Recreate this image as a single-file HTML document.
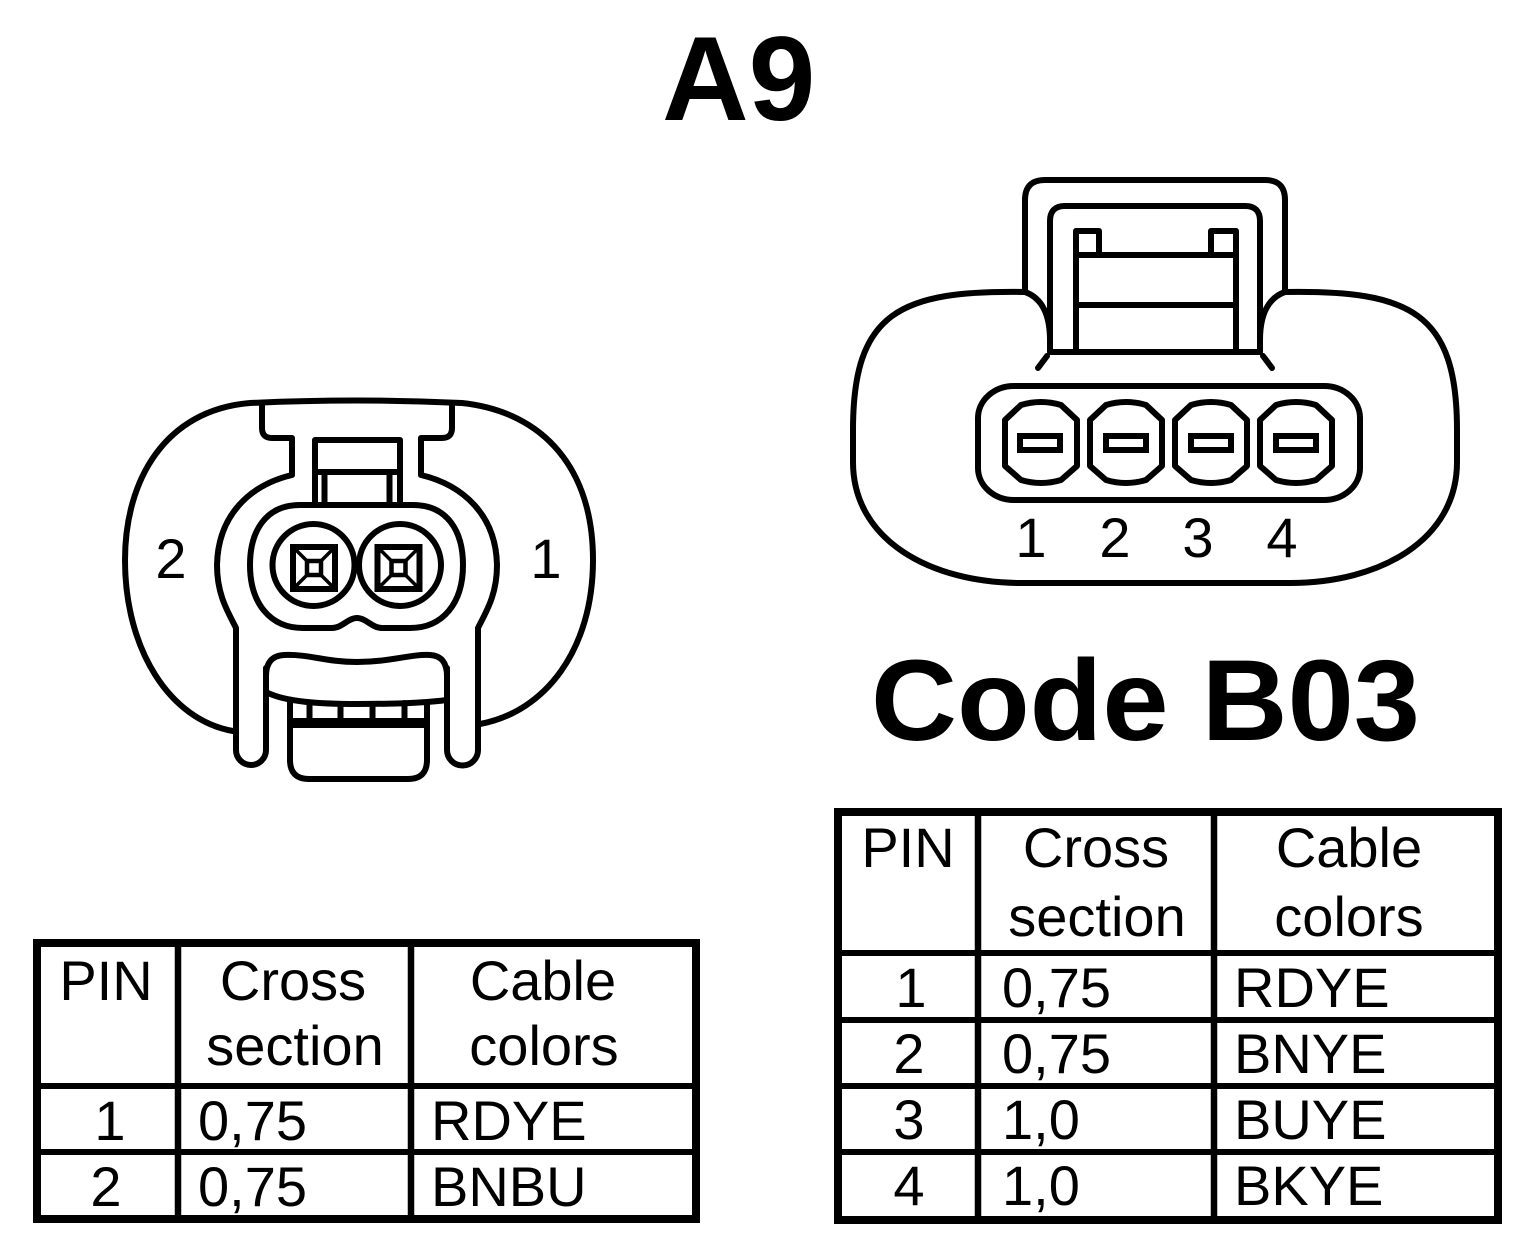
<!DOCTYPE html>
<html>
<head>
<meta charset="utf-8">
<style>
  html, body { margin:0; padding:0; background:#fff; }
  body { width:1536px; height:1248px; overflow:hidden; }
  svg { display:block; }
  text { font-family: "Liberation Sans", Arial, sans-serif; fill:#000; }
</style>
</head>
<body>
<svg width="1536" height="1248" viewBox="0 0 1536 1248" xmlns="http://www.w3.org/2000/svg">
  <rect x="0" y="0" width="1536" height="1248" fill="#fff"/>

  <!-- Titles -->
  <text x="662" y="120" font-size="120" font-weight="bold">A9</text>
  <text x="871" y="740" font-size="115" font-weight="bold" textLength="549" lengthAdjust="spacingAndGlyphs">Code B03</text>

  <!-- ===== Left connector (A9) ===== -->
  <g fill="none" stroke="#000" stroke-width="6" stroke-linejoin="round" stroke-linecap="round">
    <!-- outer ring -->
    <path d="M 233 731 C 170 720, 125 650, 125 560 C 125 480, 165 410, 250 403 Q 357 398 462 403 C 545 412, 593 470, 593 560 C 593 650, 545 712, 480 724"/>
    <!-- inner contour left -->
    <path d="M 262 403 L 262 428 Q 262 438 272 438 L 292 438 L 292 475 C 250 485, 218 515, 217 565 C 217 595, 228 612, 236 628 L 236 750 A 15 15 0 0 0 266 750 L 266 668"/>
    <!-- inner contour right -->
    <path d="M 452 403 L 452 428 Q 452 438 442 438 L 421 438 L 421 475 C 463 485, 496 515, 497 565 C 497 595, 486 612, 478 628 L 478 750 A 15.5 15.5 0 0 1 447 750 L 447 668"/>
    <!-- latch -->
    <path d="M 315 504 L 315 440 L 400 440 L 400 504"/>
    <path d="M 315 472 L 400 472"/>
    <path d="M 324.5 472 L 324.5 503"/>
    <path d="M 389.5 472 L 389.5 503"/>
    <!-- pin housing -->
    <path d="M 300 505 L 413 505 C 448 505, 463 532, 463 565 C 463 603, 443 628, 410 628 L 382 628 C 372 628, 366 618, 357 618 C 348 618, 342 628, 332 628 L 303 628 C 270 628, 250 603, 250 565 C 250 532, 265 505, 300 505 Z"/>
    <!-- pin circles -->
    <circle cx="313.5" cy="565" r="41"/>
    <circle cx="400" cy="565" r="41"/>
    <!-- jaw -->
    <path d="M 266 676 Q 266 656 284 655 C 310 654, 325 662, 357 662 C 390 662, 410 654, 430 655 Q 447 656 447 676"/>
    <path d="M 266 692 C 285 702, 320 704, 357 704 C 395 704, 425 703, 447 700"/>
    <!-- plug -->
    <path d="M 290 702 L 290 760 Q 290 779 309 779 L 408 779 Q 427 779 427 760 L 427 703"/>
    <path d="M 309.5 703 L 309.5 720 M 340.5 704 L 340.5 720 M 372.5 704 L 372.5 720 M 404.5 703 L 404.5 720"/>
  </g>
  <rect x="290" y="718" width="137" height="10" fill="#000"/>

  <!-- square terminals -->
  <g fill="none" stroke="#000" stroke-linejoin="miter">
    <rect x="293" y="547" width="42" height="42" stroke-width="6"/>
    <rect x="307" y="561" width="14" height="14" stroke-width="4.5"/>
    <path d="M 293 547 L 307 561 M 335 547 L 321 561 M 293 589 L 307 575 M 335 589 L 321 575" stroke-width="3.5"/>
    <rect x="377.5" y="547" width="42" height="42" stroke-width="6"/>
    <rect x="391.5" y="561" width="14" height="14" stroke-width="4.5"/>
    <path d="M 377.5 547 L 391.5 561 M 419.5 547 L 405.5 561 M 377.5 589 L 391.5 575 M 419.5 589 L 405.5 575" stroke-width="3.5"/>
  </g>

  <text x="171" y="578" font-size="56" text-anchor="middle">2</text>
  <text x="546" y="578" font-size="56" text-anchor="middle">1</text>

  <!-- ===== Right connector (B03) ===== -->
  <g fill="none" stroke="#000" stroke-width="6" stroke-linejoin="round" stroke-linecap="round">
    <!-- body -->
    <path d="M 1025 292 C 900 290, 853 312, 853 430 L 853 462 C 853 540, 930 583, 1022 583 L 1290 583 C 1380 583, 1457 540, 1457 462 L 1457 430 C 1457 312, 1410 290, 1285 292"/>
    <!-- outer tab -->
    <path d="M 1025 292 L 1025 200 Q 1025 180 1045 180 L 1265 180 Q 1285 180 1285 200 L 1285 292"/>
    <!-- curves from junction into inner tab -->
    <path d="M 1025 292 C 1042 298, 1050 315, 1050 340"/>
    <path d="M 1285 292 C 1268 298, 1260 315, 1260 340"/>
    <!-- tails -->
    <path d="M 1047 356 L 1038 368"/>
    <path d="M 1263 356 L 1272 368"/>
    <!-- inner tab -->
    <path d="M 1050 352 L 1050 221 Q 1050 206 1065 206 L 1245 206 Q 1260 206 1260 221 L 1260 352 Z"/>
    <!-- latch -->
    <path d="M 1076 352 L 1076 231 L 1099 231 L 1099 255"/>
    <path d="M 1236 352 L 1236 231 L 1211 231 L 1211 255"/>
    <path d="M 1076 255 L 1236 255"/>
    <path d="M 1076 305 L 1236 305"/>
    <!-- pin housing -->
    <rect x="978" y="386" width="382" height="114" rx="36" ry="32"/>
    <!-- cavities -->
    <path d="M 1005 420 L 1021 405 Q 1041 399 1061 405 L 1077 420 L 1077 466 L 1061 480 Q 1041 486 1021 480 L 1005 466 Z"/>
    <path d="M 1090 420 L 1106 405 Q 1126 399 1146 405 L 1162 420 L 1162 466 L 1146 480 Q 1126 486 1106 480 L 1090 466 Z"/>
    <path d="M 1175 420 L 1191 405 Q 1211 399 1231 405 L 1247 420 L 1247 466 L 1231 480 Q 1211 486 1191 480 L 1175 466 Z"/>
    <path d="M 1260 420 L 1276 405 Q 1296 399 1316 405 L 1332 420 L 1332 466 L 1316 480 Q 1296 486 1276 480 L 1260 466 Z"/>
  </g>
  <g fill="none" stroke="#000" stroke-width="6" stroke-linejoin="miter">
    <rect x="1020" y="436" width="40" height="14"/>
    <rect x="1106" y="436" width="40" height="14"/>
    <rect x="1191" y="436" width="40" height="14"/>
    <rect x="1276" y="436" width="40" height="14"/>
  </g>
  <text x="1031" y="557" font-size="56" text-anchor="middle">1</text>
  <text x="1115" y="557" font-size="56" text-anchor="middle">2</text>
  <text x="1198" y="557" font-size="56" text-anchor="middle">3</text>
  <text x="1282" y="557" font-size="56" text-anchor="middle">4</text>

  <!-- ===== Left table ===== -->
  <g stroke="#000" fill="none">
    <rect x="37" y="943" width="659" height="276" stroke-width="8"/>
    <path d="M 178 943 L 178 1219 M 411 943 L 411 1219" stroke-width="6.5"/>
    <path d="M 37 1086 L 696 1086 M 37 1152 L 696 1152" stroke-width="6"/>
  </g>
  <g font-size="56">
    <text x="106" y="1000" text-anchor="middle">PIN</text>
    <text x="293" y="1000" text-anchor="middle">Cross</text>
    <text x="295" y="1065" text-anchor="middle">section</text>
    <text x="543" y="1000" text-anchor="middle">Cable</text>
    <text x="544" y="1065" text-anchor="middle">colors</text>
    <text x="110" y="1140" text-anchor="middle">1</text>
    <text x="106" y="1206" text-anchor="middle">2</text>
    <text x="198" y="1140">0,75</text>
    <text x="198" y="1206">0,75</text>
    <text x="431" y="1140">RDYE</text>
    <text x="431" y="1206">BNBU</text>
  </g>

  <!-- ===== Right table ===== -->
  <g stroke="#000" fill="none">
    <rect x="838" y="812" width="660" height="408" stroke-width="8"/>
    <path d="M 978 812 L 978 1220 M 1214 812 L 1214 1220" stroke-width="6.5"/>
    <path d="M 838 953 L 1498 953 M 838 1020 L 1498 1020 M 838 1086 L 1498 1086 M 838 1152 L 1498 1152" stroke-width="6"/>
  </g>
  <g font-size="56">
    <text x="908" y="867" text-anchor="middle">PIN</text>
    <text x="1096" y="867" text-anchor="middle">Cross</text>
    <text x="1097" y="936" text-anchor="middle">section</text>
    <text x="1349" y="867" text-anchor="middle">Cable</text>
    <text x="1349" y="936" text-anchor="middle">colors</text>
    <text x="911" y="1007" text-anchor="middle">1</text>
    <text x="909" y="1073" text-anchor="middle">2</text>
    <text x="909" y="1139" text-anchor="middle">3</text>
    <text x="909" y="1205" text-anchor="middle">4</text>
    <text x="1002" y="1007">0,75</text>
    <text x="1002" y="1073">0,75</text>
    <text x="1002" y="1139">1,0</text>
    <text x="1002" y="1205">1,0</text>
    <text x="1234" y="1007">RDYE</text>
    <text x="1234" y="1073">BNYE</text>
    <text x="1234" y="1139">BUYE</text>
    <text x="1234" y="1205">BKYE</text>
  </g>
</svg>
</body>
</html>
